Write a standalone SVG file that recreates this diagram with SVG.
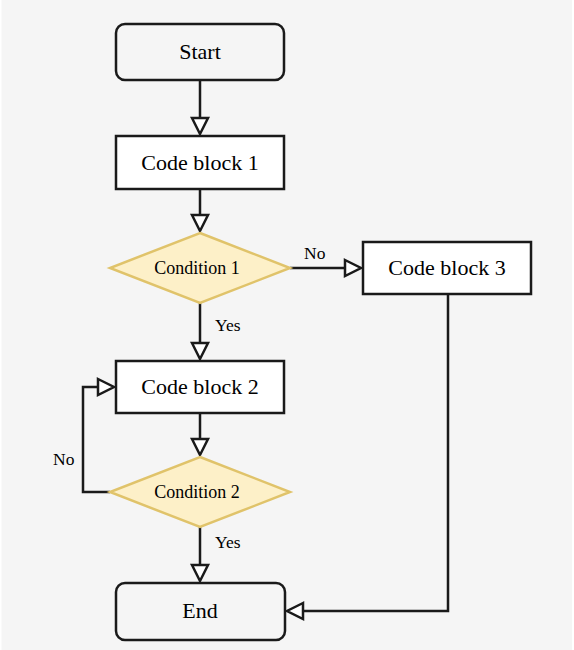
<svg xmlns="http://www.w3.org/2000/svg" width="574" height="650" viewBox="0 0 574 650">
<defs>
<style>
.box{fill:#ffffff;stroke:#1a1a1a;stroke-width:2.5}
.term{fill:#f5f5f5;stroke:#1a1a1a;stroke-width:2.5}
.dia{fill:#fdf0c8;stroke:#e0c36a;stroke-width:2.5}
.lbl{font-size:22px;fill:#000;text-anchor:middle}
.dlbl{font-size:18px;fill:#000;text-anchor:middle}
.elbl{font-size:17.5px;fill:#000}
.edge{fill:none;stroke:#1a1a1a;stroke-width:2.5}
.head{fill:#ffffff;stroke:#1a1a1a;stroke-width:2.5}
</style>
</defs>
<rect x="0" y="0" width="574" height="650" fill="#ffffff"/>
<rect x="1.5" y="0" width="570.5" height="650" fill="#f5f5f5"/>
<g font-family="Liberation Serif, Tinos, Times New Roman, DejaVu Serif, serif">
<g id="connectors">
<path class="edge" d="M200,80 V117"/>
<path class="head" d="M192,118 L200,134 L208,118 Z"/>
<path class="edge" d="M200,189 V215"/>
<path class="head" d="M192,215 L200,231 L208,215 Z"/>
<path class="edge" d="M290,268 H345"/>
<path class="head" d="M345,260 L361,268 L345,276 Z"/>
<text class="elbl" x="304" y="259">No</text>
<path class="edge" d="M200,303 V343"/>
<path class="head" d="M192,343 L200,359 L208,343 Z"/>
<text class="elbl" x="215" y="331">Yes</text>
<path class="edge" d="M200,413 V439"/>
<path class="head" d="M192,439 L200,455 L208,439 Z"/>
<path class="edge" d="M110,492 H83 V387 H98"/>
<path class="head" d="M98,379 L114,387 L98,395 Z"/>
<text class="elbl" x="53" y="465">No</text>
<path class="edge" d="M200,527 V565"/>
<path class="head" d="M192,565 L200,581 L208,565 Z"/>
<text class="elbl" x="215" y="548">Yes</text>
<path class="edge" d="M448,294 V611 H303"/>
<path class="head" d="M303,603 L287,611 L303,619 Z"/>
</g>
<g id="start">
<rect class="term" x="116" y="24" width="168" height="56" rx="9"/>
<text class="lbl" x="200" y="59">Start</text>
</g>
<g id="code1">
<rect class="box" x="116" y="136" width="168" height="53"/>
<text class="lbl" x="200" y="170">Code block 1</text>
</g>
<g id="cond1">
<path class="dia" d="M200,233 L290,268 L200,303 L110,268 Z"/>
<text class="dlbl" x="197" y="274">Condition 1</text>
</g>
<g id="code3">
<rect class="box" x="363" y="242" width="168" height="52"/>
<text class="lbl" x="447" y="275">Code block 3</text>
</g>
<g id="code2">
<rect class="box" x="116" y="361" width="168" height="52"/>
<text class="lbl" x="200" y="394">Code block 2</text>
</g>
<g id="cond2">
<path class="dia" d="M200,457 L290,492 L200,527 L110,492 Z"/>
<text class="dlbl" x="197" y="498">Condition 2</text>
</g>
<g id="end">
<rect class="term" x="116" y="583" width="169" height="57" rx="9"/>
<text class="lbl" x="200" y="618">End</text>
</g>
</g>
</svg>
